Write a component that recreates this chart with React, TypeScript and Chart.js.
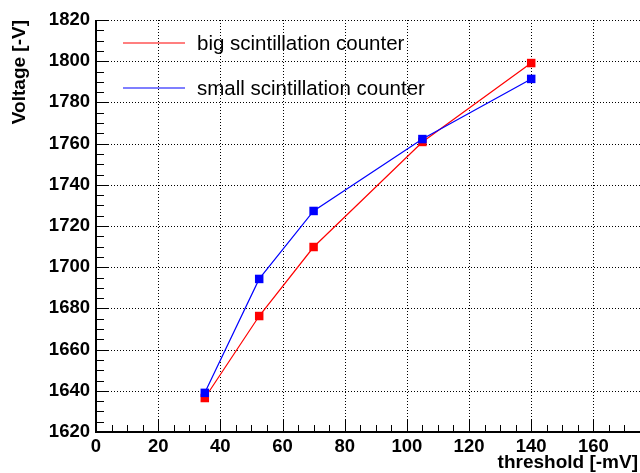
import { useEffect, useRef } from "react";
import { Chart, registerables } from "chart.js";

Chart.register(...registerables);

// Threshold settings [-mV]
const thresholds = [35, 52.5, 70, 105, 140];
// Operating voltage [-V] for each counter
const bigCounter = [1636.5, 1676.3, 1709.8, 1760.8, 1799.1];
const smallCounter = [1639, 1694.3, 1727.3, 1762.2, 1791.4];

const xTicks = [0, 20, 40, 60, 80, 100, 120, 140, 160];
const yTicks = [1620, 1640, 1660, 1680, 1700, 1720, 1740, 1760, 1780, 1800, 1820];

const seriesNames = ["big scintillation counter", "small scintillation counter"];
const seriesColors = ["#ff0000", "#0000ff"];

const FONT = "'Liberation Sans', Arial, Helvetica, sans-serif";

// Dotted grid, inward ticks, axis frame, titles and in-plot legend
const framePlugin = {
  id: "frame",
  beforeDatasetsDraw(chart: any) {
    const { ctx, chartArea } = chart;
    const xs = chart.scales.x;
    const ys = chart.scales.y;
    const { left, right, top, bottom } = chartArea;
    ctx.save();
    ctx.strokeStyle = "#000";
    ctx.lineWidth = 1;
    ctx.setLineDash([1, 2]);
    xTicks.forEach((v) => {
      const px = Math.round(xs.getPixelForValue(v)) + 0.5;
      ctx.beginPath();
      ctx.moveTo(px, top);
      ctx.lineTo(px, bottom);
      ctx.stroke();
    });
    yTicks.forEach((v) => {
      const py = Math.round(ys.getPixelForValue(v)) + 0.5;
      ctx.beginPath();
      ctx.moveTo(left, py);
      ctx.lineTo(right, py);
      ctx.stroke();
    });
    ctx.setLineDash([]);

    // minor and major ticks pointing into the plot
    ctx.lineWidth = 1;
    for (let v = 0; v <= 175; v += 5) {
      const px = Math.round(xs.getPixelForValue(v)) + 0.5;
      const len = v % 20 === 0 ? 13 : 7;
      ctx.beginPath();
      ctx.moveTo(px, bottom);
      ctx.lineTo(px, bottom - len);
      ctx.stroke();
    }
    for (let v = 1620; v <= 1820; v += 5) {
      const py = Math.round(ys.getPixelForValue(v)) + 0.5;
      const len = v % 20 === 0 ? 13 : 8;
      ctx.beginPath();
      ctx.moveTo(left, py);
      ctx.lineTo(left + len, py);
      ctx.stroke();
    }

    // axis lines
    ctx.lineWidth = 2;
    ctx.beginPath();
    ctx.moveTo(left, top);
    ctx.lineTo(left, bottom);
    ctx.lineTo(right, bottom);
    ctx.stroke();
    ctx.restore();
  },
  afterDraw(chart: any) {
    const { ctx, chartArea } = chart;
    ctx.save();
    // axis titles
    ctx.fillStyle = "#000";
    ctx.font = `bold 19px ${FONT}`;
    ctx.textAlign = "right";
    ctx.textBaseline = "middle";
    ctx.fillText("threshold [-mV]", chartArea.right - 2, 463);
    ctx.translate(20, chartArea.top);
    ctx.rotate(-Math.PI / 2);
    ctx.fillText("Voltage [-V]", 0, 0);
    ctx.restore();

    // legend
    ctx.save();
    ctx.font = `20.5px ${FONT}`;
    ctx.textAlign = "left";
    ctx.textBaseline = "middle";
    const rows = [43, 88];
    seriesNames.forEach((name, i) => {
      const y = rows[i];
      ctx.strokeStyle = seriesColors[i];
      ctx.lineWidth = 1.2;
      ctx.beginPath();
      ctx.moveTo(123, y);
      ctx.lineTo(185, y);
      ctx.stroke();
      ctx.fillStyle = "#000";
      ctx.fillText(name, 197, y + 1);
    });
    ctx.restore();
  },
};

export default function App() {
  const canvasRef = useRef<HTMLCanvasElement | null>(null);

  useEffect(() => {
    if (!canvasRef.current) return;
    const toPoints = (ys: number[]) => thresholds.map((x, i) => ({ x, y: ys[i] }));
    const chart = new Chart(canvasRef.current, {
      type: "scatter",
      data: {
        datasets: [
          {
            label: seriesNames[0],
            data: toPoints(bigCounter),
            showLine: true,
            borderColor: seriesColors[0],
            backgroundColor: seriesColors[0],
            borderWidth: 1.2,
            pointStyle: "rect",
            pointRadius: 6,
            pointBorderWidth: 0,
            order: 1,
          },
          {
            label: seriesNames[1],
            data: toPoints(smallCounter),
            showLine: true,
            borderColor: seriesColors[1],
            backgroundColor: seriesColors[1],
            borderWidth: 1.2,
            pointStyle: "rect",
            pointRadius: 6,
            pointBorderWidth: 0,
            order: 0,
          },
        ],
      },
      options: {
        animation: false,
        responsive: false,
        devicePixelRatio: 1,
        layout: { autoPadding: false, padding: { top: 20, right: 0, left: 0, bottom: 0 } },
        plugins: { legend: { display: false }, tooltip: { enabled: false } },
        scales: {
          x: {
            type: "linear",
            min: 0,
            max: 175,
            grid: { display: false, drawTicks: false },
            border: { display: false },
            afterFit: (s: any) => {
              s.height = 41;
            },
            afterBuildTicks: (s: any) => {
              s.ticks = xTicks.map((value) => ({ value }));
            },
            ticks: {
              color: "#000",
              padding: 4,
              maxRotation: 0,
              autoSkip: false,
              callback: (v: any) => String(v),
              font: { family: FONT, size: 18.5, weight: "bold" },
            },
          },
          y: {
            type: "linear",
            min: 1620,
            max: 1820,
            grid: { display: false, drawTicks: false },
            border: { display: false },
            afterFit: (s: any) => {
              s.width = 96;
            },
            afterBuildTicks: (s: any) => {
              s.ticks = yTicks.map((value) => ({ value }));
            },
            ticks: {
              color: "#000",
              padding: 6,
              autoSkip: false,
              callback: (v: any) => String(v),
              font: { family: FONT, size: 18.5, weight: "bold" },
            },
          },
        },
      },
      plugins: [framePlugin],
    } as any);
    return () => chart.destroy();
  }, []);

  return (
    <div style={{ position: "absolute", left: 0, top: 0, width: 640, height: 473, background: "#fff" }}>
      <canvas ref={canvasRef} width={640} height={473} />
    </div>
  );
}
